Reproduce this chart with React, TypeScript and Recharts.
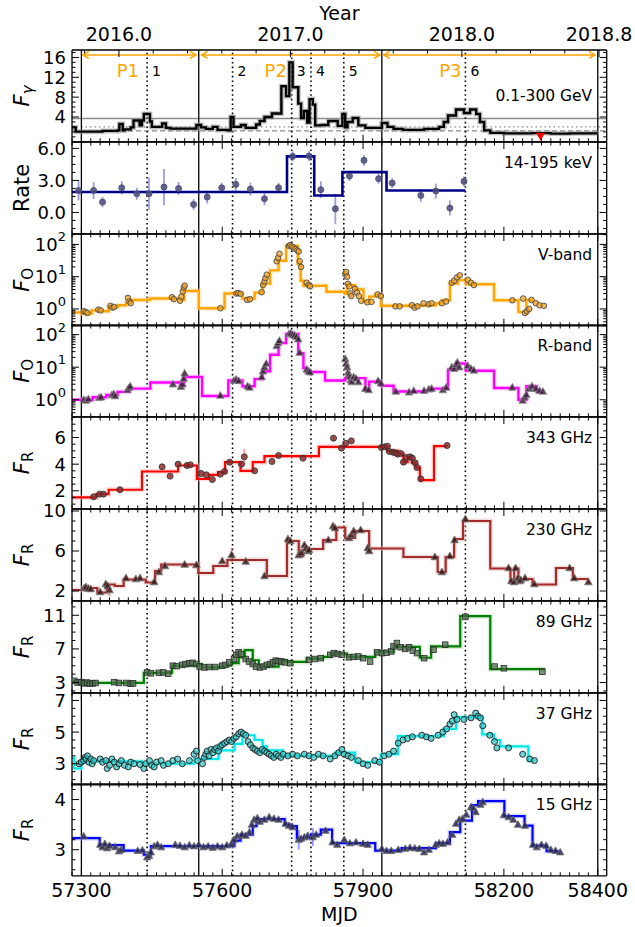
import React from 'react';
import { ComposedChart, Line, Scatter, XAxis, YAxis, ReferenceLine, ReferenceDot, ErrorBar } from 'recharts';

// ---------- shared time axis ----------
const MJD_MIN = 57280;
const MJD_MAX = 58419;
const mjdMajor = [57300, 57600, 57900, 58200, 58400];
const yearTickValues = [2015.8, 2016.0, 2016.2, 2016.4, 2016.6, 2016.8, 2017.0, 2017.2, 2017.4, 2017.6, 2017.8, 2018.0, 2018.2, 2018.4, 2018.6, 2018.8];
const yearMajor = [2016.0, 2017.0, 2018.0, 2018.8];
const YEAR_2016_MJD = 57380;

// period boundaries, flare epochs and activity periods
const periodEdges = [57300, 57550, 57940, 58400];
const flareEpochs = [57440, 57622, 57748, 57789, 57859, 58118];
const flareIds = ['1', '2', '3', '4', '5', '6'];
const periodNames = ['P1', 'P2', 'P3'];
const periodFrom = [57303, 57556, 57944];
const periodTo = [57544, 57936, 58394];
const periodLabelAt = [57399, 57714, 58086];

// ---------- light curves: Bayesian-block steps [MJD start, level] and measurements [MJD, value, error] ----------
type Step = [number, number];
type Pt = [number, number, number?];

const gammaSteps: Step[] = [
  [57280, 1.9], [57288, 1.05], [57345, 1.2], [57378, 1.35], [57381, 2.6], [57388, 1.3], [57392, 1.5], [57405, 1.9],
  [57411, 3.3], [57424, 2.3], [57429, 3.3], [57433, 4.6], [57446, 3.1], [57450, 2.0], [57472, 2.7], [57480, 1.8],
  [57489, 1.65], [57545, 2.4], [57555, 1.9], [57565, 1.6], [57580, 2.0], [57590, 1.4], [57612, 1.3], [57618, 4.0],
  [57624, 2.0], [57640, 2.4], [57650, 1.8], [57672, 2.5], [57680, 3.2], [57690, 4.0], [57706, 4.7], [57726, 10.2],
  [57736, 8.2], [57743, 15.0], [57750, 10.0], [57762, 6.7], [57768, 3.8], [57774, 5.2], [57781, 2.9], [57786, 7.6],
  [57793, 6.5], [57798, 2.3], [57812, 2.4], [57826, 3.2], [57846, 2.2], [57856, 4.6], [57862, 1.9], [57867, 3.0],
  [57878, 3.8], [57890, 2.3], [57905, 1.8], [57940, 2.8], [57952, 2.0], [57965, 1.6], [57985, 1.4], [58030, 1.6],
  [58062, 2.0], [58072, 3.0], [58081, 4.3], [58098, 5.5], [58115, 4.8], [58128, 5.5], [58141, 4.6], [58149, 3.0],
  [58158, 1.3], [58171, 0.8], [58200, 0.7], [58260, 0.75], [58300, 0.65], [58340, 0.7],
];
const gammaEnd = 58400;
const gammaUpperLimits: Pt[] = [[58278, 0.0]];
const gammaLevels = { high: 3.7, mid: 2.0, low: 1.2 };

const rateSteps: Step[] = [[57280, 1.91], [57738, 5.25], [57796, 1.59], [57856, 3.78], [57950, 2.06]];
const rateEnd = 58118;
const ratePts: Pt[] = [
  [57294, 2.06, 0.94], [57326, 2.06, 0.78], [57345, 0.97, 0.47], [57386, 2.31, 0.6], [57418, 1.75, 0.56],
  [57444, 1.75, 1.5], [57476, 2.38, 1.7], [57507, 2.25, 0.6], [57539, 0.75, 0.5], [57568, 1.44, 0.6],
  [57599, 2.31, 0.47], [57629, 2.63, 0.6], [57660, 2.19, 0.6], [57690, 1.28, 0.6], [57720, 2.31, 0.47],
  [57750, 5.25, 0.47], [57785, 5.28, 0.47], [57810, 2.13, 0.78], [57841, 0.34, 1.4], [57871, 3.41, 0.47],
  [57902, 4.88, 0.5], [57933, 3.16, 0.47], [57962, 2.75, 0.47], [58023, 1.59, 0.6], [58055, 2.0, 0.7],
  [58085, 0.41, 0.7], [58115, 2.91, 0.47],
];

const vSteps: Step[] = [
  [57280, 0.78], [57300, 0.72], [57322, 0.9], [57345, 0.85], [57358, 1.15], [57378, 1.3], [57395, 1.6], [57401, 1.9],
  [57446, 2.1], [57510, 1.9], [57519, 3.6], [57550, 1.05], [57605, 3.0], [57643, 2.1], [57669, 3.2], [57686, 6.1],
  [57702, 15.7], [57720, 31], [57736, 90], [57761, 25], [57767, 7.5], [57773, 5.2], [57822, 3.4], [57862, 3.0],
  [57866, 5.4], [57883, 4.0], [57901, 1.7], [57913, 2.4], [57926, 2.8], [57938, 1.25], [58029, 1.3], [58055, 1.5],
  [58068, 1.85], [58085, 6.1], [58102, 7.8], [58119, 5.8], [58179, 1.85], [58231, 0.8], [58248, 1.9],
];
const vEnd = 58262;
const vPts: Pt[] = [
  [57305, 0.85], [57309, 0.8], [57313, 0.75], [57336, 0.95], [57341, 0.9], [57362, 1.25], [57366, 1.1], [57370, 1.15],
  [57399, 2.2], [57402, 1.7], [57405, 1.5], [57493, 2.3], [57497, 2.0], [57510, 1.8], [57513, 2.4], [57516, 3.5],
  [57518, 4.6], [57520, 5.3], [57596, 1.05], [57630, 3.0], [57634, 3.1], [57639, 2.95], [57653, 1.9], [57659, 2.0],
  [57684, 3.3], [57687, 5.5], [57690, 7], [57692, 9], [57695, 11.5], [57716, 30], [57719, 38], [57722, 51],
  [57742, 90], [57745, 95], [57748, 85], [57752, 80], [57756, 72], [57760, 65], [57763, 60], [57765, 30],
  [57768, 20], [57780, 6.5], [57784, 5.5], [57787, 5.0], [57862, 12], [57864, 14], [57866, 10], [57868, 6],
  [57871, 5], [57873, 3.0], [57875, 2.5], [57883, 4.2], [57887, 3.2], [57891, 2.5], [57896, 1.8], [57909, 1.6],
  [57918, 1.65], [57931, 2.8], [57938, 2.5], [57969, 1.2], [57978, 1.2], [58004, 1.3], [58010, 1.1], [58016, 1.2],
  [58029, 1.5], [58040, 1.4], [58046, 1.5], [58068, 1.5], [58077, 1.7], [58089, 6.5], [58094, 7.5], [58100, 9.5],
  [58106, 11], [58123, 8], [58130, 6.5], [58136, 5.5], [58218, 1.85], [58241, 2.1], [58245, 0.75], [58249, 0.85],
  [58254, 1.0], [58259, 1.9], [58268, 1.5], [58276, 1.3], [58285, 1.25],
];

const rSteps: Step[] = [
  [57280, 1.0], [57324, 1.2], [57353, 1.4], [57377, 1.75], [57401, 2.2], [57447, 3.4], [57510, 2.7], [57519, 5.0],
  [57557, 1.3], [57613, 3.9], [57643, 2.6], [57669, 4.3], [57686, 7.5], [57702, 24], [57720, 55], [57736, 105],
  [57762, 27], [57773, 9.4], [57780, 7.1], [57819, 3.9], [57862, 4.6], [57905, 2.0], [57913, 3.6], [57938, 2.7],
  [57965, 1.8], [58033, 1.9], [58046, 2.2], [58081, 8.3], [58098, 13], [58119, 7.8], [58179, 2.3], [58231, 1.0],
  [58248, 2.6], [58270, 1.8],
];
const rEnd = 58282;
const rPts: Pt[] = [
  [57305, 1.0], [57310, 0.95], [57315, 1.05], [57338, 1.15], [57342, 1.2], [57365, 1.4], [57369, 1.5], [57372, 1.3],
  [57398, 2.0], [57401, 2.3], [57404, 2.6], [57495, 3.0], [57512, 2.5], [57515, 3.0], [57518, 4.5], [57520, 6.5],
  [57596, 1.35], [57625, 3.9], [57630, 4.2], [57635, 3.8], [57654, 2.6], [57658, 2.4], [57684, 5], [57687, 7.5],
  [57690, 10], [57694, 13], [57716, 45], [57719, 55], [57722, 65], [57742, 105], [57746, 110], [57750, 100],
  [57754, 95], [57758, 85], [57762, 72], [57765, 28], [57780, 8.5], [57784, 7.5], [57787, 7.0], [57862, 18],
  [57864, 13], [57866, 10], [57868, 7], [57870, 6], [57872, 5], [57874, 4], [57876, 3.5], [57880, 5], [57885, 4.5],
  [57890, 3.5], [57905, 2.2], [57912, 2.0], [57932, 3.8], [57938, 3.2], [57970, 1.8], [57998, 1.7], [58008, 1.9],
  [58030, 1.9], [58040, 2.1], [58046, 2.2], [58070, 2.0], [58077, 2.4], [58089, 10], [58094, 9], [58098, 12],
  [58101, 14], [58105, 10], [58123, 11], [58130, 9], [58136, 8], [58218, 2.4], [58240, 0.95], [58244, 1.2],
  [58248, 1.4], [58254, 2.2], [58260, 2.6], [58268, 2.2], [58276, 1.9], [58283, 1.8],
];

const f343Steps: Step[] = [
  [57280, 1.5], [57332, 1.75], [57358, 2.08], [57429, 3.45], [57506, 3.9], [57546, 2.9], [57572, 3.2], [57591, 3.4],
  [57606, 4.15], [57639, 3.5], [57665, 4.15], [57690, 4.6], [57806, 5.3], [57952, 5.0], [57974, 4.8], [57986, 4.15],
  [57995, 4.45], [58004, 4.1], [58012, 3.75], [58021, 2.8], [58051, 5.35],
];
const f343End = 58079;
const f343Pts: Pt[] = [
  [57326, 1.55, 0.08], [57339, 1.75, 0.08], [57347, 1.75, 0.08], [57382, 2.08, 0.1], [57472, 3.8, 0.2],
  [57489, 3.1, 0.15], [57506, 4.0, 0.2], [57525, 3.9, 0.1], [57532, 3.95, 0.1], [57555, 3.3, 0.15],
  [57566, 3.2, 0.1], [57579, 2.85, 0.1], [57596, 3.25, 0.1], [57605, 3.45, 0.1], [57616, 4.15, 0.15],
  [57641, 4.0, 0.15], [57647, 4.55, 0.6], [57669, 3.5, 0.1], [57706, 4.2, 0.1], [57720, 4.65, 0.1],
  [57772, 4.45, 0.1], [57837, 5.95, 0.25], [57854, 5.2, 0.1], [57863, 5.57, 0.1], [57875, 5.75, 0.1],
  [57939, 5.25, 0.1], [57946, 5.3, 0.1], [57952, 5.35, 0.1], [57956, 4.95, 0.1], [57963, 4.9, 0.1],
  [57969, 4.85, 0.1], [57974, 4.75, 0.1], [57980, 4.8, 0.1], [57986, 4.15, 0.1], [57992, 4.5, 0.1],
  [58000, 4.55, 0.1], [58005, 4.45, 0.1], [58011, 4.1, 0.1], [58015, 3.75, 0.1], [58023, 2.9, 0.1],
  [58079, 5.4, 0.1],
];

const f230Steps: Step[] = [
  [57280, 2.1], [57304, 2.3], [57334, 1.85], [57354, 2.65], [57371, 2.5], [57390, 3.15], [57437, 2.85], [57457, 4.0],
  [57470, 4.65], [57549, 3.8], [57581, 4.5], [57611, 5.1], [57695, 3.5], [57738, 7.0], [57763, 5.5], [57772, 6.1],
  [57785, 6.2], [57815, 7.1], [57843, 8.35], [57862, 7.3], [57883, 8.0], [57913, 6.25], [57986, 5.4], [58059, 3.9],
  [58076, 5.4], [58094, 7.2], [58113, 9.0], [58171, 4.25], [58214, 3.0], [58222, 4.25], [58231, 3.1], [58240, 3.2],
  [58261, 2.65], [58311, 4.3], [58347, 3.2],
];
const f230End = 58381;
const f230Pts: Pt[] = [
  [57306, 2.3, 0.1], [57310, 2.4, 0.1], [57315, 2.25, 0.1], [57320, 2.2, 0.1], [57340, 1.9, 0.1], [57352, 2.7, 0.15],
  [57356, 2.5, 0.1], [57360, 2.1, 0.6], [57395, 3.3, 0.1], [57416, 3.2, 0.1], [57425, 3.3, 0.1], [57455, 2.9, 0.1],
  [57465, 3.9, 0.1], [57478, 4.5, 0.1], [57520, 4.65, 0.1], [57545, 4.6, 0.1], [57600, 5.0, 0.1], [57620, 5.6, 0.7],
  [57650, 4.95, 0.1], [57690, 3.5, 0.1], [57740, 7.2, 0.1], [57745, 7.0, 0.1], [57763, 5.6, 0.1], [57768, 5.8, 0.1],
  [57775, 6.6, 0.1], [57779, 6.3, 0.1], [57782, 6.0, 0.1], [57785, 6.1, 0.1], [57826, 7.1, 0.1], [57836, 8.5, 0.1],
  [57840, 8.3, 0.1], [57870, 7.3, 0.1], [57875, 7.6, 0.1], [57880, 8.0, 0.1], [57895, 8.1, 0.1], [57910, 6.3, 0.1],
  [57913, 6.0, 0.1], [58053, 5.4, 0.1], [58068, 3.9, 0.1], [58085, 5.5, 0.1], [58095, 7.1, 0.1], [58118, 9.2, 0.2],
  [58210, 4.3, 0.1], [58216, 3.0, 0.1], [58222, 2.9, 0.1], [58225, 4.3, 0.1], [58230, 3.3, 0.1], [58233, 3.0, 0.1],
  [58236, 3.1, 0.1], [58245, 3.3, 0.1], [58265, 2.7, 0.1], [58340, 4.3, 0.1], [58350, 3.3, 0.1], [58380, 2.9, 0.1],
];

const f89Steps: Step[] = [
  [57280, 3.15], [57291, 2.95], [57433, 4.15], [57493, 5.0], [57549, 5.2], [57557, 4.8], [57596, 5.0], [57619, 5.3],
  [57635, 6.0], [57648, 6.85], [57665, 5.65], [57678, 4.9], [57720, 5.6], [57738, 5.45], [57780, 5.85], [57815, 6.05],
  [57832, 6.45], [57866, 6.05], [57926, 6.65], [57965, 7.25], [58021, 5.95], [58045, 7.3], [58107, 10.9], [58171, 4.6],
];
const f89End = 58287;
const f89Pts: Pt[] = [
  [57285, 3.2], [57292, 3.0], [57300, 3.05], [57306, 2.9], [57312, 3.0], [57318, 2.85], [57324, 2.9], [57330, 2.95],
  [57370, 3.05], [57380, 2.95], [57396, 2.95], [57405, 2.85], [57410, 2.9], [57440, 4.2], [57448, 4.1], [57465, 4.15],
  [57474, 4.2], [57485, 4.05], [57495, 5.0], [57503, 4.95], [57515, 5.1], [57522, 5.2], [57530, 5.3], [57537, 5.35],
  [57545, 5.2], [57552, 4.9], [57562, 4.8], [57572, 4.85], [57585, 4.85], [57600, 5.0], [57607, 5.1], [57615, 5.4],
  [57625, 5.8], [57630, 6.3], [57635, 6.6], [57640, 6.4], [57650, 5.8], [57657, 5.5], [57665, 5.2], [57672, 4.9],
  [57680, 4.8], [57688, 4.9], [57695, 5.1], [57702, 5.2], [57708, 5.4], [57714, 5.6], [57720, 5.55], [57726, 5.5],
  [57733, 5.4], [57745, 5.3], [57785, 5.7], [57797, 5.8], [57810, 5.9], [57830, 6.3], [57838, 6.5], [57846, 6.4],
  [57855, 6.3], [57870, 6.0], [57880, 6.05], [57890, 6.1], [57900, 5.9], [57915, 5.5], [57930, 6.6], [57940, 6.5],
  [57950, 6.55], [57960, 6.7], [57965, 7.3], [57972, 7.7], [57980, 7.2], [57990, 7.0], [57998, 7.2], [58006, 6.8],
  [58015, 6.5], [58030, 5.9], [58050, 6.9], [58075, 7.5], [58118, 10.8], [58180, 4.9], [58200, 4.7], [58282, 4.3],
];

const f37Steps: Step[] = [
  [57280, 3.35], [57285, 2.7], [57300, 3.15], [57429, 3.0], [57540, 3.3], [57592, 3.85], [57626, 4.25], [57643, 4.8],
  [57669, 4.5], [57686, 4.1], [57695, 3.85], [57729, 3.5], [57841, 3.7], [57883, 3.1], [57938, 3.6], [57974, 4.75],
  [58072, 5.2], [58098, 5.95], [58154, 4.85], [58179, 4.5], [58192, 4.1], [58252, 3.2],
];
const f37End = 58265;
const f37Pts: Pt[] = [
  [57295, 3.0], [57300, 3.1], [57305, 3.2], [57308, 3.4], [57310, 3.3], [57313, 3.5], [57316, 3.1], [57320, 3.3],
  [57323, 3.0], [57326, 3.2], [57340, 3.3], [57345, 3.1], [57352, 3.2], [57355, 2.7], [57360, 2.9], [57365, 3.3],
  [57370, 3.1], [57375, 2.8], [57380, 3.0], [57385, 3.2], [57392, 2.9], [57400, 2.8], [57405, 3.1], [57412, 3.0],
  [57425, 2.95], [57433, 2.7], [57437, 3.0], [57445, 3.2], [57450, 2.9], [57455, 2.8], [57460, 3.1], [57470, 3.2],
  [57475, 2.9], [57485, 3.0], [57495, 3.2], [57505, 3.3], [57515, 3.0], [57530, 3.2], [57540, 3.6], [57545, 3.8],
  [57548, 3.2], [57558, 3.0], [57562, 3.4], [57565, 3.6], [57568, 3.8], [57572, 3.5], [57576, 3.9], [57580, 3.7],
  [57584, 3.9], [57588, 4.0], [57592, 3.8], [57596, 4.1], [57600, 4.2], [57605, 4.3], [57610, 4.4], [57615, 4.5],
  [57620, 4.4], [57625, 4.6], [57630, 4.7], [57635, 4.9], [57640, 5.0], [57645, 4.9], [57650, 4.8], [57655, 4.4],
  [57660, 4.2], [57665, 4.0], [57670, 3.9], [57675, 3.8], [57680, 3.7], [57685, 3.9], [57690, 3.8], [57695, 3.7],
  [57700, 3.6], [57705, 3.5], [57710, 3.4], [57715, 3.6], [57720, 3.5], [57725, 3.4], [57730, 3.6], [57740, 3.5],
  [57750, 3.6], [57760, 3.5], [57775, 3.6], [57785, 3.5], [57795, 3.4], [57805, 3.6], [57815, 3.5], [57830, 3.3],
  [57840, 3.5], [57848, 3.7], [57855, 3.9], [57860, 3.6], [57868, 3.5], [57875, 3.4], [57890, 3.2], [57900, 3.0],
  [57910, 2.9], [57925, 3.2], [57935, 3.1], [57945, 3.5], [57955, 3.6], [57965, 3.8], [57975, 4.3], [57985, 4.5],
  [57995, 4.6], [58005, 4.7], [58025, 4.8], [58035, 4.7], [58045, 4.6], [58060, 4.8], [58070, 5.0], [58078, 5.2],
  [58085, 5.5], [58090, 5.7], [58094, 6.1], [58100, 5.8], [58115, 5.8], [58130, 5.9], [58140, 6.2], [58145, 6.0],
  [58150, 5.9], [58155, 5.4], [58170, 4.8], [58180, 4.4], [58185, 4.0], [58210, 4.0], [58240, 3.6], [58255, 3.3],
  [58265, 3.2],
];

const f15Steps: Step[] = [
  [57280, 3.23], [57339, 3.09], [57390, 2.98], [57433, 2.9], [57448, 3.07], [57626, 3.18], [57639, 3.3], [57665, 3.47],
  [57673, 3.61], [57733, 3.5], [57746, 3.47], [57759, 3.23], [57789, 3.3], [57810, 3.4], [57834, 3.13], [57926, 2.98],
  [57982, 3.03], [58055, 3.13], [58085, 3.35], [58107, 3.58], [58132, 3.89], [58145, 3.97], [58201, 3.67],
  [58244, 3.48], [58261, 3.08], [58291, 2.97],
];
const f15End = 58317;
const f15Pts: Pt[] = [
  [57305, 3.27, 0.02], [57340, 3.1, 0.02], [57345, 3.05, 0.02], [57350, 3.12, 0.02], [57355, 3.03, 0.02],
  [57360, 3.08, 0.02], [57372, 3.05, 0.02], [57380, 2.97, 0.02], [57385, 3.0, 0.02], [57420, 2.98, 0.02],
  [57430, 2.99, 0.02], [57440, 2.85, 0.03], [57444, 2.88, 0.03], [57448, 2.95, 0.02], [57455, 3.07, 0.02],
  [57462, 3.1, 0.02], [57470, 3.05, 0.02], [57500, 3.1, 0.02], [57510, 3.08, 0.02], [57520, 3.05, 0.02],
  [57530, 3.09, 0.02], [57540, 3.07, 0.02], [57550, 3.1, 0.02], [57560, 3.05, 0.02], [57570, 3.07, 0.02],
  [57580, 3.04, 0.02], [57590, 3.07, 0.02], [57600, 3.05, 0.02], [57610, 3.09, 0.02], [57620, 3.12, 0.02],
  [57625, 3.2, 0.02], [57632, 3.27, 0.02], [57642, 3.3, 0.02], [57650, 3.28, 0.02], [57658, 3.35, 0.02],
  [57663, 3.5, 0.02], [57668, 3.6, 0.02], [57675, 3.63, 0.02], [57680, 3.56, 0.02], [57690, 3.6, 0.02],
  [57700, 3.65, 0.02], [57710, 3.62, 0.02], [57720, 3.6, 0.02], [57735, 3.52, 0.02], [57742, 3.48, 0.02],
  [57750, 3.45, 0.02], [57763, 3.2, 0.2], [57768, 3.22, 0.03], [57775, 3.25, 0.03], [57782, 3.28, 0.03],
  [57793, 3.25, 0.18], [57800, 3.3, 0.03], [57820, 3.38, 0.02], [57835, 3.15, 0.02], [57845, 3.1, 0.02],
  [57860, 3.2, 0.02], [57872, 3.13, 0.02], [57885, 3.15, 0.02], [57900, 3.12, 0.02], [57910, 3.1, 0.02],
  [57940, 3.02, 0.02], [57950, 2.98, 0.02], [57960, 2.98, 0.02], [57975, 3.0, 0.02], [57990, 3.02, 0.02],
  [58000, 3.04, 0.02], [58010, 3.03, 0.02], [58020, 3.02, 0.02], [58030, 2.95, 0.02], [58040, 3.0, 0.02],
  [58055, 3.1, 0.02], [58062, 3.13, 0.02], [58070, 3.12, 0.02], [58080, 3.15, 0.02], [58090, 3.3, 0.02],
  [58098, 3.52, 0.02], [58105, 3.6, 0.02], [58112, 3.62, 0.02], [58120, 3.7, 0.02], [58130, 3.85, 0.02],
  [58135, 3.83, 0.02], [58140, 3.75, 0.02], [58150, 3.9, 0.02], [58155, 3.95, 0.02], [58200, 3.69, 0.02],
  [58210, 3.65, 0.02], [58220, 3.6, 0.02], [58230, 3.5, 0.02], [58245, 3.48, 0.02], [58262, 3.1, 0.02],
  [58270, 3.05, 0.02], [58280, 3.1, 0.02], [58290, 3.08, 0.02], [58300, 3.0, 0.02], [58310, 2.98, 0.02],
  [58320, 2.95, 0.02],
];

// ---------- helpers ----------
const FONT = 'DejaVu Sans, Verdana, sans-serif';
const PLOT_TOP = 50;
const PANEL_H = 91.8;
const PAD = 50;
const LEFT_W = 72;
const RIGHT_W = 28.3;
const CHART_W = 635;

const range = (a: number, b: number, s: number) => {
  const out: number[] = [];
  for (let i = 0; a + i * s <= b + 1e-9; i++) out.push(+(a + i * s).toFixed(4));
  return out;
};
const toRows = (steps: Step[], end: number) => [
  ...steps.map(([x, y]) => ({ x, y })),
  { x: end, y: steps[steps.length - 1][1] },
];
const toPts = (pts: Pt[]) => pts.map(([x, y, e]) => ({ x, y, e: e ?? 0 }));
const isIn = (list: number[], v: number) => list.some((m) => Math.abs(m - v) < 1e-6);

const mjdTicks = range(57280, 58400, 20);
const yearToMjd = (y: number) => +(YEAR_2016_MJD + (y - 2016) * 365.25).toFixed(3);
const yearTicks = yearTickValues.map(yearToMjd);
const yearMajorMjd = yearMajor.map(yearToMjd);

const logTicks = [0.3, 0.4, 0.5, 0.6, 0.7, 0.8, 0.9, 1, 2, 3, 4, 5, 6, 7, 8, 9, 10, 20, 30, 40, 50, 60, 70, 80, 90, 100, 200];

// ---------- tick renderers (inward ticks on all four sides) ----------
const renderXTick = (p: any, side: 'top' | 'bottom', majors: number[], labelOf: ((v: number) => string) | null) => {
  const v = p.payload.value;
  const major = isIn(majors, v);
  const len = major ? 7 : 3.5;
  const dir = side === 'bottom' ? -1 : 1;
  const lab = labelOf && major ? labelOf(v) : null;
  return (
    <g>
      <line x1={p.x} x2={p.x} y1={p.y} y2={p.y + dir * len} stroke="#000" strokeWidth={1} />
      {lab !== null && (
        <text x={p.x} y={side === 'bottom' ? p.y + 14 : p.y - 16} textAnchor="middle" dominantBaseline="central"
          fontFamily={FONT} fontSize={19} fill="#000">{lab}</text>
      )}
    </g>
  );
};

const renderYTick = (p: any, side: 'left' | 'right', majors: number[], fmt: (v: number) => React.ReactNode) => {
  const v = p.payload.value;
  const major = isIn(majors, v);
  const len = major ? 7 : 3.5;
  const dir = side === 'left' ? 1 : -1;
  return (
    <g>
      <line x1={p.x} x2={p.x + dir * len} y1={p.y} y2={p.y} stroke="#000" strokeWidth={1} />
      {side === 'left' && major && (
        <text x={p.x - 6} y={p.y} textAnchor="end" dominantBaseline="central" fontFamily={FONT} fontSize={18} fill="#000">
          {fmt(v)}
        </text>
      )}
    </g>
  );
};

const fmtInt = (v: number) => String(v);
const fmtOne = (v: number) => v.toFixed(1);
const fmtPow = (v: number) => (
  <>
    10<tspan dy={-8} fontSize={13}>{Math.round(Math.log10(v))}</tspan>
  </>
);

// marker shapes
const circle = (fill: string, stroke: string, r = 3, op = 0.8) => (p: any) =>
  <circle cx={p.cx} cy={p.cy} r={r} fill={fill} stroke={stroke} strokeWidth={0.9} fillOpacity={op} />;
const triangle = (fill: string, stroke: string, s = 4, op = 0.85) => (p: any) =>
  <path d={`M${p.cx},${p.cy - s} L${p.cx - s * 0.95},${p.cy + s * 0.7} L${p.cx + s * 0.95},${p.cy + s * 0.7} Z`}
    fill={fill} stroke={stroke} strokeWidth={0.8} fillOpacity={op} />;
const square = (fill: string, stroke: string, s = 2.8, op = 0.8) => (p: any) =>
  <rect x={p.cx - s} y={p.cy - s} width={2 * s} height={2 * s} fill={fill} stroke={stroke} strokeWidth={0.8} fillOpacity={op} />;
const downTriangle = (fill: string) => (p: any) =>
  <path d={`M${p.cx - 4.5},${p.cy - 4} L${p.cx + 4.5},${p.cy - 4} L${p.cx},${p.cy + 4} Z`} fill={fill} />;

// ---------- panel definitions ----------
interface PanelCfg {
  key: string;
  title: React.ReactNode;
  band: string;
  bandDy: number;
  domain: [number, number];
  log?: boolean;
  ticks: number[];
  majors: number[];
  fmt: (v: number) => React.ReactNode;
  rows: { x: number; y: number }[];
  color: string;
  width: number;
  halo?: string;
  pts?: { x: number; y: number; e: number }[];
  shape?: (p: any) => React.ReactElement;
  errColor?: string;
}

const fSub = (sub: string, italicSub: boolean) => (
  <>
    <tspan fontStyle="italic">F</tspan>
    <tspan fontSize={15} dy={6} fontStyle={italicSub ? 'italic' : 'normal'}>{sub}</tspan>
  </>
);

const panels: PanelCfg[] = [
  {
    key: 'gamma', title: fSub('γ', true), band: '0.1-300 GeV', bandDy: 46, domain: [-1, 17.5],
    ticks: range(-1, 17, 1), majors: [4, 8, 12, 16], fmt: fmtInt,
    rows: toRows(gammaSteps, gammaEnd), color: '#000', width: 2.4, halo: '#9a9a9a',
  },
  {
    key: 'bat', title: 'Rate', band: '14-195 keV', bandDy: 21, domain: [-2, 6.6],
    ticks: range(-1.5, 6, 0.75), majors: [0, 3, 6], fmt: fmtOne,
    rows: toRows(rateSteps, rateEnd), color: '#00008b', width: 2.6,
    pts: toPts(ratePts), shape: circle('#4d4d7a', '#4d4d7a', 3, 0.85), errColor: '#5a5ac8',
  },
  {
    key: 'v', title: fSub('O', false), band: 'V-band', bandDy: 21, domain: [0.3, 210], log: true,
    ticks: logTicks, majors: [1, 10, 100], fmt: fmtPow,
    rows: toRows(vSteps, vEnd), color: '#ffa500', width: 2.4, halo: '#ffd9a0',
    pts: toPts(vPts), shape: circle('#f0a020', '#4a4a4a', 2.8, 0.75),
  },
  {
    key: 'r', title: fSub('O', false), band: 'R-band', bandDy: 21, domain: [0.3, 197], log: true,
    ticks: logTicks, majors: [1, 10, 100], fmt: fmtPow,
    rows: toRows(rSteps, rEnd), color: '#ff00ff', width: 2.4, halo: '#ffb0ff',
    pts: toPts(rPts), shape: triangle('#3a1d3a', '#8a8a8a', 4, 0.85),
  },
  {
    key: 'f343', title: fSub('R', false), band: '343 GHz', bandDy: 21, domain: [0.65, 7.54],
    ticks: range(1, 7.5, 0.5), majors: [2, 4, 6], fmt: fmtInt,
    rows: toRows(f343Steps, f343End), color: '#ff0000', width: 2.2, halo: '#ffb4b4',
    pts: toPts(f343Pts), shape: circle('#8a2a2a', '#333', 3, 0.8), errColor: '#ff5a5a',
  },
  {
    key: 'f230', title: fSub('R', false), band: '230 GHz', bandDy: 21, domain: [1.02, 10.2],
    ticks: range(2, 10, 1), majors: [2, 6, 10], fmt: fmtInt,
    rows: toRows(f230Steps, f230End), color: '#a52a2a', width: 2.2, halo: '#e0b8b8',
    pts: toPts(f230Pts), shape: triangle('#3a1818', '#777', 4, 0.85), errColor: '#c06060',
  },
  {
    key: 'f89', title: fSub('R', false), band: '89 GHz', bandDy: 21, domain: [1.78, 12.7],
    ticks: range(2, 12, 1), majors: [3, 7, 11], fmt: fmtInt,
    rows: toRows(f89Steps, f89End), color: '#008000', width: 2.2, halo: '#a8d8a8',
    pts: toPts(f89Pts), shape: square('#4f6e4f', '#2a2a2a', 2.8, 0.75),
  },
  {
    key: 'f37', title: fSub('R', false), band: '37 GHz', bandDy: 21, domain: [1.67, 7.47],
    ticks: range(2, 7, 0.5), majors: [3, 5, 7], fmt: fmtInt,
    rows: toRows(f37Steps, f37End), color: '#00e5e5', width: 2.2, halo: '#b0f4f4',
    pts: toPts(f37Pts), shape: circle('#38c4c4', '#1a1a1a', 3, 0.7),
  },
  {
    key: 'f15', title: fSub('R', false), band: '15 GHz', bandDy: 21, domain: [2.48, 4.31],
    ticks: range(2.6, 4.2, 0.2), majors: [3, 4], fmt: fmtInt,
    rows: toRows(f15Steps, f15End), color: '#0000ff', width: 2.2, halo: '#b4b4ff',
    pts: toPts(f15Pts), shape: triangle('#2a2a55', '#666', 3.8, 0.85), errColor: '#4a4aff',
  },
];

// ---------- decorations for the gamma-ray panel ----------
const arrowShape = (p: any) => {
  const { x1, y1, x2 } = p;
  const h = 6;
  const w = 3.5;
  return (
    <g stroke="#ffa500" strokeWidth={1.5} fill="none">
      <line x1={x1} y1={y1} x2={x2} y2={y1} />
      <path d={`M${x1 + h},${y1 - w} L${x1},${y1} L${x1 + h},${y1 + w}`} />
      <path d={`M${x2 - h},${y1 - w} L${x2},${y1} L${x2 - h},${y1 + w}`} />
    </g>
  );
};

const frame = { stroke: '#000', strokeWidth: 1.3 };

function Panel({ cfg, index }: { cfg: PanelCfg; index: number }) {
  const first = index === 0;
  const last = index === panels.length - 1;
  const h = PANEL_H + 2 * PAD;
  const top = PLOT_TOP + index * PANEL_H - PAD;

  const yTitle = (lp: any) => {
    const vb = lp.viewBox;
    const cy = vb.y + vb.height / 2;
    const cx = 22;
    return (
      <text x={cx} y={cy} transform={`rotate(-90 ${cx} ${cy})`} textAnchor="middle" dominantBaseline="central"
        fontFamily={FONT} fontSize={21} fill="#000">{cfg.title}</text>
    );
  };
  const bandLabel = (lp: any) => {
    const vb = lp.viewBox;
    return (
      <text x={vb.x - 14.5} y={vb.y + cfg.bandDy} textAnchor="end" dominantBaseline="central"
        fontFamily={FONT} fontSize={15.5} fill="#000">{cfg.band}</text>
    );
  };
  const yearTitle = (lp: any) => {
    const vb = lp.viewBox;
    return (
      <text x={vb.x + vb.width / 2} y={vb.y + vb.height - 37} textAnchor="middle" dominantBaseline="central"
        fontFamily={FONT} fontSize={19} fill="#000">Year</text>
    );
  };
  const mjdTitle = (lp: any) => {
    const vb = lp.viewBox;
    return (
      <text x={vb.x + vb.width / 2} y={vb.y + 38} textAnchor="middle" dominantBaseline="central"
        fontFamily={FONT} fontSize={19} fill="#000">MJD</text>
    );
  };
  const yearLabelOf = (v: number) => {
    const i = yearMajorMjd.findIndex((m) => Math.abs(m - v) < 1e-6);
    return i >= 0 ? yearMajor[i].toFixed(1) : '';
  };

  return (
    <div style={{ position: 'absolute', left: 0, top, width: CHART_W, height: h }}>
      <ComposedChart width={CHART_W} height={h} margin={{ top: 0, right: 0, bottom: 0, left: 0 }}>
        <XAxis xAxisId="b" type="number" dataKey="x" domain={[MJD_MIN, MJD_MAX]} allowDataOverflow orientation="bottom"
          height={PAD} ticks={mjdTicks} interval={0} tickSize={0} tickMargin={0} tickLine={false} axisLine={frame}
          tick={(t: any) => renderXTick(t, 'bottom', mjdMajor, last ? (v) => String(v) : null)}
          label={last ? mjdTitle : undefined} />
        <XAxis xAxisId="t" type="number" dataKey="x" domain={[MJD_MIN, MJD_MAX]} allowDataOverflow orientation="top"
          height={PAD} ticks={first ? yearTicks : mjdTicks} interval={0} tickSize={0} tickMargin={0} tickLine={false}
          axisLine={frame}
          tick={(t: any) => first ? renderXTick(t, 'top', yearMajorMjd, yearLabelOf) : renderXTick(t, 'top', mjdMajor, null)}
          label={first ? yearTitle : undefined} />
        <YAxis yAxisId="l" dataKey="y" type="number" scale={cfg.log ? 'log' : 'linear'} domain={cfg.domain}
          allowDataOverflow width={LEFT_W} ticks={cfg.ticks} interval={0} tickSize={0} tickMargin={0} tickLine={false}
          axisLine={frame} tick={(t: any) => renderYTick(t, 'left', cfg.majors, cfg.fmt)} label={yTitle} />
        <YAxis yAxisId="r" orientation="right" dataKey="y" type="number" scale={cfg.log ? 'log' : 'linear'}
          domain={cfg.domain} allowDataOverflow width={RIGHT_W} ticks={cfg.ticks} interval={0} tickSize={0}
          tickMargin={0} tickLine={false} axisLine={frame}
          tick={(t: any) => renderYTick(t, 'right', cfg.majors, cfg.fmt)} label={bandLabel} />

        {first && (
          <ReferenceLine xAxisId="b" yAxisId="l" y={gammaLevels.high} stroke="#8c8c8c" strokeWidth={1.4} />
        )}
        {first && (
          <ReferenceLine xAxisId="b" yAxisId="l" y={gammaLevels.mid} stroke="#8c8c8c" strokeWidth={1.4} strokeDasharray="1.5 3" />
        )}
        {first && (
          <ReferenceLine xAxisId="b" yAxisId="l" y={gammaLevels.low} stroke="#8c8c8c" strokeWidth={1.4} strokeDasharray="5 3" />
        )}

        {periodEdges.map((x) => (
          <ReferenceLine key={`edge-${x}`} xAxisId="b" yAxisId="l" x={x} stroke="#000" strokeWidth={1.3} />
        ))}
        {flareEpochs.map((x, i) => (
          <ReferenceLine key={`flare-${x}`} xAxisId="b" yAxisId="l" x={x} stroke="#000" strokeWidth={1.6}
            strokeDasharray="1.6 3"
            label={first ? (lp: any) => (
              <text x={lp.viewBox.x + 5} y={lp.viewBox.y + 21} textAnchor="start" dominantBaseline="central"
                fontFamily={FONT} fontSize={14} fill="#000">{flareIds[i]}</text>
            ) : undefined} />
        ))}

        {first && periodNames.map((name, i) => (
          <ReferenceLine key={`arrow-${name}`} xAxisId="b" yAxisId="l"
            segment={[{ x: periodFrom[i], y: 16.5 }, { x: periodTo[i], y: 16.5 }]} shape={arrowShape} />
        ))}
        {first && periodNames.map((name, i) => (
          <ReferenceDot key={`pname-${name}`} xAxisId="b" yAxisId="l" x={periodLabelAt[i]} y={13.3} r={0}
            shape={(p: any) => (
              <text x={p.cx} y={p.cy} textAnchor="middle" dominantBaseline="central" fontFamily={FONT}
                fontSize={18} fill="#ffa500">{name}</text>
            )} />
        ))}

        {cfg.halo && (
          <Line xAxisId="b" yAxisId="l" data={cfg.rows} dataKey="y" type="stepAfter" stroke={cfg.halo}
            strokeWidth={first ? 5 : 5} strokeOpacity={first ? 0.6 : 0.45} dot={false} isAnimationActive={false} />
        )}
        {cfg.pts && (
          <Scatter xAxisId="b" yAxisId="l" data={cfg.pts} dataKey="y" shape={cfg.shape} isAnimationActive={false}>
            {cfg.errColor && (
              <ErrorBar dataKey="e" direction="y" width={0} stroke={cfg.errColor} strokeWidth={1.8} strokeOpacity={0.6} />
            )}
          </Scatter>
        )}
        <Line xAxisId="b" yAxisId="l" data={cfg.rows} dataKey="y" type="stepAfter" stroke={cfg.color}
          strokeWidth={cfg.width} dot={false} isAnimationActive={false} />
        {first && (
          <Scatter xAxisId="b" yAxisId="l" data={toPts(gammaUpperLimits)} dataKey="y" shape={downTriangle('#ff0000')}
            isAnimationActive={false} />
        )}
      </ComposedChart>
    </div>
  );
}

export default function App() {
  return (
    <div style={{ position: 'absolute', left: 0, top: 0, width: CHART_W, height: 927, background: '#fff' }}>
      {panels.map((p, i) => (
        <Panel key={p.key} cfg={p} index={i} />
      ))}
    </div>
  );
}
